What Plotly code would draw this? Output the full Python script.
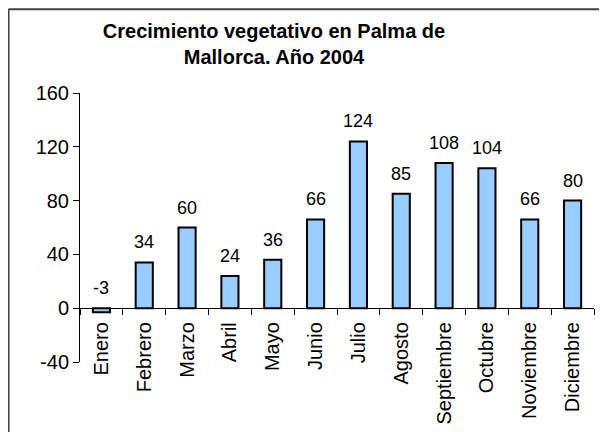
import plotly.graph_objects as go

meses = ["Enero", "Febrero", "Marzo", "Abril", "Mayo", "Junio", "Julio",
         "Agosto", "Septiembre", "Octubre", "Noviembre", "Diciembre"]
crecimiento = [-3, 34, 60, 24, 36, 66, 124, 85, 108, 104, 66, 80]
y_ticks = [-40, 0, 40, 80, 120, 160]
titulo = "Crecimiento vegetativo en Palma de<br>Mallorca. Año 2004"

# the page body adds an 8px margin, so the figure is 8px smaller than the window
W, H = 599, 424
ML, MR, MT, MB = 72, 13, 84.5, 69.5
ymin, ymax = -40, 160
pw, ph = W - ML - MR, H - MT - MB

FONT = "Liberation Sans, Arial, sans-serif"

fig = go.Figure()
fig.add_trace(go.Bar(
    x=meses, y=crecimiento,
    marker=dict(color="#99CCFF", line=dict(color="black", width=2)),
    hoverinfo="x+y",
))

for m, v in zip(meses, crecimiento):
    fig.add_annotation(x=m, y=max(v, 0), text=str(v), showarrow=False,
                       yanchor="bottom", yshift=8,
                       font=dict(family=FONT, size=18, color="black"))

# border of the chart (top and left edges visible)
bx = (0.5 - ML) / pw
by = (H - MB - 0.5) / ph
fig.add_shape(type="line", xref="paper", yref="paper", x0=bx, x1=1.2, y0=by, y1=by,
              line=dict(color="#404040", width=2))
fig.add_shape(type="line", xref="paper", yref="paper", x0=bx, x1=bx, y0=by, y1=-0.5,
              line=dict(color="#404040", width=2))

fig.update_layout(
    width=W, height=H,
    margin=dict(l=ML, r=MR, t=MT, b=MB, autoexpand=False),
    paper_bgcolor="white", plot_bgcolor="white",
    showlegend=False, bargap=0.6,
    title=dict(text="<b>" + titulo + "</b>", x=266 / W, xanchor="center", xref="container",
               y=1 - 30 / H, yanchor="top", yref="container",
               font=dict(family=FONT, size=20, color="black")),
    font=dict(family=FONT, color="black"),
    xaxis=dict(type="category", range=[-0.5, len(meses) - 0.5],
               anchor="free", position=(0 - ymin) / (ymax - ymin),
               showline=True, linecolor="black", linewidth=1,
               ticks="outside", tickson="boundaries", ticklen=6, tickcolor="black",
               tickangle=-90, ticklabelstandoff=5,
               showgrid=False, zeroline=False, automargin=False,
               tickfont=dict(family=FONT, size=20, color="black")),
    yaxis=dict(range=[ymin, ymax], tickvals=y_ticks, ticktext=[str(t) for t in y_ticks],
               showline=True, linecolor="black", linewidth=1,
               ticks="outside", ticklen=6, tickcolor="black",
               showgrid=False, zeroline=False, automargin=False,
               tickfont=dict(family=FONT, size=20, color="black")),
)

fig.write_html("out.html")
